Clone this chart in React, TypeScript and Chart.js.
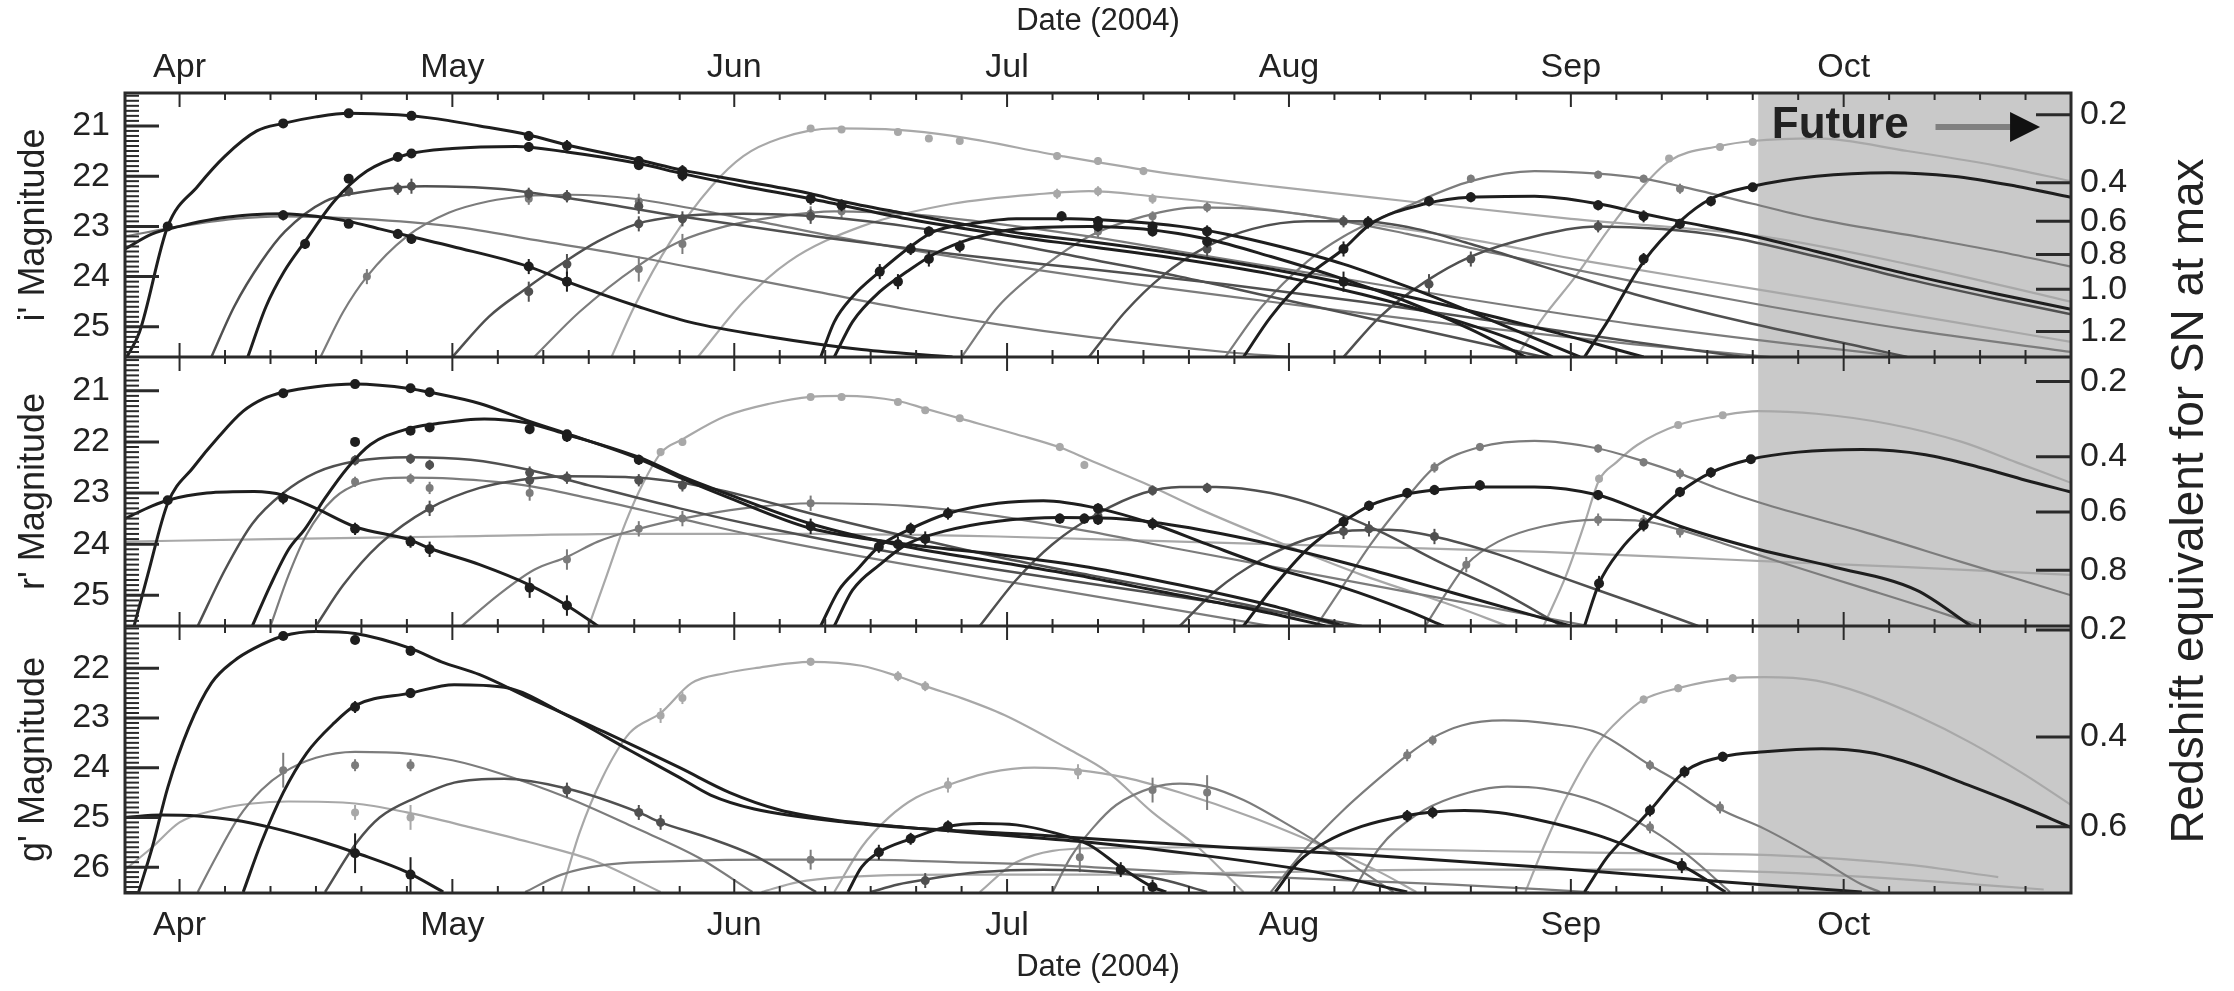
import React, { useEffect, useRef } from 'react';
import { Chart, registerables } from 'chart.js';

Chart.register(...registerables);

// ---------- axes (x = days since 2004-04-01) ----------
const monthDays = [0, 30, 61, 91, 122, 153, 183];
const monthLabels = ['Apr', 'May', 'Jun', 'Jul', 'Aug', 'Sep', 'Oct'];
const X_MIN = -6;
const X_MAX = 208;
const FUTURE_START = 173.6;

const iRange = [20.345, 25.6];
const rRange = [20.34, 25.6];
const gRange = [21.15, 26.52];
const iTicks = [21, 22, 23, 24, 25];
const rTicks = [21, 22, 23, 24, 25];
const gTicks = [22, 23, 24, 25, 26];

const iRedshiftLabels = ['0.2', '0.4', '0.6', '0.8', '1.0', '1.2'];
const iRedshiftMags = [20.78, 22.13, 22.9, 23.56, 24.25, 25.09];
const rRedshiftLabels = ['0.2', '0.4', '0.6', '0.8'];
const rRedshiftMags = [20.82, 22.29, 23.37, 24.51];
const gRedshiftLabels = ['0.2', '0.4', '0.6'];
const gRedshiftMags = [21.23, 23.38, 25.19];

// ---------- i' light curves [day, mag] and observations [day, mag, err] ----------
const iA = [[-5.8,25.6],[-4.4,25.1],[-1.3,23.0],[2,22.2],[5,21.6],[8.5,21.1],[11.4,20.95],[15,20.82],[18.6,20.75],[24,20.78],[27.5,20.84],[33,21.0],[38.4,21.18],[42.6,21.38],[50.5,21.68],[55.3,21.88],[62,22.1],[69.4,22.35],[72.8,22.5],[79,22.72],[86,22.95],[93,23.15],[100,23.3],[110,23.55],[120,23.85],[130,24.2],[140,24.6],[150,25.05],[158,25.45],[161,25.6]];
const iAObs = [[11.4,20.95,0.06],[18.6,20.75,0.05],[25.5,20.8,0.06],[38.4,21.2,0.1],[42.6,21.4,0.12],[50.5,21.7,0.1],[55.3,21.9,0.12]];
const iB = [[7.5,25.6],[9.5,24.6],[11.5,23.9],[13.8,23.3],[17,22.5],[20.6,21.9],[25,21.57],[30,21.45],[37,21.41],[42.6,21.52],[50.5,21.75],[55.3,21.95],[62,22.2],[69.4,22.45],[80,22.85],[90,23.15],[100,23.4],[110,23.65],[120,23.95],[130,24.35],[140,24.85],[148,25.35],[151,25.6]];
const iBObs = [[13.8,23.35,0.1],[18.6,22.05,0.08],[24,21.62,0.07],[25.5,21.55,0.08],[38.4,21.42,0.1],[50.5,21.78,0.1],[55.3,21.98,0.12],[69.4,22.45,0.12],[72.8,22.58,0.12]];
const iC = [[-6,23.45],[-3,23.15],[0,23.0],[4,22.85],[8,22.77],[11.4,22.75],[15,22.8],[18.6,22.9],[22,23.05],[25.4,23.2],[30,23.4],[38.4,23.8],[42.6,24.1],[50.5,24.6],[56,24.9],[65,25.2],[75,25.45],[85,25.6]];
const iCObs = [[-1.3,23.0,0.08],[11.4,22.78,0.1],[18.6,22.95,0.08],[24,23.15,0.1],[25.5,23.25,0.1],[38.4,23.8,0.15],[42.6,24.1,0.2]];
const iC2 = [[-6,23.2],[0,23.0],[6,22.85],[11.4,22.8],[20,22.85],[30,23.0],[40,23.3],[50,23.6],[60,23.95],[70,24.3],[80,24.65],[90,24.95],[100,25.2],[115,25.5],[122,25.6]];
const iD = [[3.5,25.6],[6,24.6],[9,23.7],[11.6,23.1],[16,22.5],[20.6,22.3],[27,22.2],[35,22.25],[45,22.5],[55,22.8],[70,23.2],[85,23.55],[100,23.85],[115,24.15],[130,24.5],[145,24.9],[160,25.3],[172,25.6]];
const iDObs = [[18.6,22.3,0.1],[24,22.25,0.12],[25.5,22.2,0.15],[38.4,22.35,0.12],[42.6,22.4,0.12],[50.5,22.6,0.15]];
const iE = [[15.5,25.6],[18,24.7],[20.6,24.0],[25,23.2],[29.6,22.73],[34,22.5],[38,22.4],[43,22.37],[50,22.45],[55,22.6],[65,22.95],[75,23.3],[90,23.75],[105,24.15],[120,24.5],[140,24.95],[160,25.35],[175,25.6]];
const iEObs = [[20.6,24.0,0.15],[38.4,22.45,0.12],[42.6,22.4,0.12],[50.5,22.5,0.15]];
const iF = [[30,25.6],[34,24.8],[38,24.25],[42.4,23.7],[46,23.3],[50.3,22.95],[55,22.8],[62,22.75],[70,22.8],[80,23.0],[90,23.3],[100,23.65],[110,24.0],[120,24.4],[130,24.8],[140,25.2],[150,25.6]];
const iFObs = [[38.4,24.3,0.2],[42.6,23.75,0.2],[50.5,22.95,0.15],[55.3,22.85,0.15],[69.4,22.8,0.15]];
const iG = [[39,25.6],[44,24.7],[50.3,23.8],[55,23.3],[60,23.0],[66,22.8],[72,22.7],[80,22.75],[90,22.95],[100,23.2],[110,23.5],[125,23.95],[140,24.4],[160,24.95],[180,25.4],[190,25.6]];
const iGObs = [[50.5,23.85,0.25],[55.3,23.35,0.2],[69.4,22.75,0.15],[72.8,22.7,0.15]];
const iBig = [[47.5,25.6],[50,24.6],[54,23.3],[58.5,22.2],[62,21.6],[66,21.25],[72,21.05],[79,21.08],[85,21.2],[97,21.6],[107,21.9],[120,22.2],[135,22.5],[153,22.85],[174,23.2],[190,23.75],[208,24.5]];
const iBigObs = [[69.4,21.05,0.06],[72.8,21.07,0.06],[79,21.12,0.06],[82.4,21.25,0.06],[85.8,21.3,0.06],[96.5,21.6,0.08],[101,21.7,0.08],[106,21.9,0.08]];
const iH = [[70.5,25.6],[72,24.9],[74,24.4],[77,23.9],[80.4,23.4],[83,23.1],[87,22.95],[92,22.85],[98,22.85],[104,22.9],[110,23.0],[115,23.15],[121,23.4],[128,23.75],[135,24.2],[142,24.7],[150,25.3],[154,25.6]];
const iHObs = [[77,23.9,0.15],[80.4,23.45,0.12],[82.4,23.1,0.1],[97,22.8,0.1],[101,22.9,0.1],[107,23.0,0.1],[113,23.1,0.12]];
const iI = [[72,25.6],[74,24.9],[77,24.3],[80,23.9],[83,23.55],[87,23.25],[92,23.05],[100,23.0],[106,23.05],[113,23.25],[120,23.6],[128,24.05],[135,24.5],[142,25.05],[148,25.6]];
const iIObs = [[79,24.1,0.15],[82.4,23.65,0.15],[85.8,23.4,0.12],[101,23.0,0.1],[107,23.1,0.1],[113,23.3,0.12],[128,24.1,0.2]];
const iJ = [[57,25.6],[62,24.5],[67,23.7],[75,23.0],[85,22.55],[95,22.35],[100,22.3],[107,22.4],[115,22.55],[125,22.8],[140,23.2],[155,23.7],[175,24.3],[195,24.9],[208,25.3]];
const iJObs = [[96.5,22.35,0.1],[101,22.3,0.1],[107,22.45,0.1]];
const iK = [[100,25.6],[104,24.7],[108,24.0],[113,23.4],[118,23.05],[124,22.9],[130,22.9],[136,23.05],[142,23.35],[150,23.8],[160,24.35],[172,24.9],[185,25.4],[190,25.6]];
const iKObs = [[113,23.45,0.15],[128,22.9,0.12],[130.7,22.92,0.12]];
const iL = [[117,25.6],[120,24.8],[124,24.0],[128,23.45],[131,22.95],[137,22.55],[142,22.42],[149,22.4],[156,22.55],[161,22.75],[165,22.9],[172,23.15],[180,23.5],[190,23.95],[200,24.35],[208,24.65]];
const iLObs = [[128,23.45,0.15],[130.7,22.92,0.12],[137.4,22.5,0.1],[142,22.42,0.1],[156,22.58,0.1],[161,22.8,0.12]];
const iM = [[115,25.6],[119,24.6],[124,23.7],[128,23.2],[135,22.6],[142,22.1],[149,21.9],[156,21.95],[161,22.05],[165,22.2],[173,22.55],[180,22.85],[191,23.2],[200,23.5],[208,23.8]];
const iMObs = [[142,22.05,0.08],[156,21.97,0.08],[161,22.05,0.08],[165,22.25,0.1]];
const iN = [[147,25.6],[150,24.8],[153.5,24.0],[157,23.1],[160,22.4],[163.8,21.7],[169.4,21.4],[173,21.3],[180,21.25],[190,21.5],[200,21.8],[208,22.1]];
const iNObs = [[163.8,21.65,0.06],[169.4,21.42,0.06],[173,21.32,0.06]];
const iO = [[154.5,25.6],[157,24.9],[161,23.7],[165,22.9],[168.4,22.45],[173,22.2],[180,22.0],[188,21.93],[195,22.0],[202,22.2],[208,22.42]];
const iOObs = [[161,23.65,0.12],[165,22.95,0.1],[168.4,22.5,0.1],[173,22.22,0.08]];
const iP = [[128,25.6],[132,24.8],[137,24.1],[142,23.6],[149,23.2],[156,23.0],[163,23.05],[170,23.2],[180,23.6],[190,24.05],[200,24.45],[208,24.75]];
const iPObs = [[137.4,24.15,0.2],[142,23.65,0.15],[156,23.0,0.12]];
const iQ = [[86,25.6],[90,24.6],[95,23.8],[100,23.2],[106,22.8],[112,22.62],[118,22.65],[125,22.8],[135,23.15],[145,23.55],[160,24.1],[175,24.6],[190,25.05],[208,25.5]];
const iQObs = [[101,23.1,0.12],[107,22.8,0.1],[113,22.62,0.1]];

// ---------- r' light curves ----------
const rA = [[-5,25.6],[-3.5,24.6],[-1.3,23.2],[1.5,22.5],[4.3,21.9],[7,21.4],[9.3,21.15],[11.4,21.03],[15,20.92],[19.3,20.87],[25.4,20.96],[27.5,21.03],[33,21.25],[38.5,21.6],[42.6,21.84],[50.5,22.33],[55.3,22.72],[60.5,23.1],[69.4,23.69],[80,24.0],[90,24.2],[100,24.45],[110,24.8],[120,25.2],[128,25.6]];
const rAObs = [[11.4,21.05,0.06],[19.3,20.87,0.05],[25.4,20.95,0.06],[27.5,21.03,0.06],[42.6,21.85,0.08],[50.5,22.35,0.1]];
const rB = [[8,25.6],[10,24.8],[12,24.1],[13.8,23.7],[16,23.1],[18.5,22.5],[21,22.05],[25,21.75],[28,21.65],[33.5,21.55],[38,21.62],[42.5,21.85],[50.5,22.3],[55.3,22.68],[60,23.0],[69.4,23.6],[80,24.05],[90,24.35],[100,24.65],[110,25.0],[120,25.35],[126,25.6]];
const rBObs = [[19.3,22.0,0.08],[25.4,21.78,0.08],[27.5,21.72,0.08],[38.5,21.75,0.1],[42.6,21.9,0.1],[69.4,23.65,0.15]];
const rC = [[-6,23.5],[-3,23.25],[-1.3,23.14],[3,23.0],[8.2,22.97],[11.4,23.04],[15,23.3],[19.3,23.66],[25.4,23.92],[27.5,24.08],[33,24.4],[38.5,24.8],[42.6,25.2],[46,25.6]];
const rCObs = [[-1.3,23.14,0.08],[11.4,23.1,0.12],[19.3,23.7,0.12],[25.4,23.95,0.12],[27.5,24.1,0.15],[38.5,24.85,0.2],[42.6,25.2,0.2]];
const rC2 = [[-6,23.95],[10,23.9],[30,23.85],[50,23.8],[70,23.8],[90,23.85],[110,23.95],[130,24.05],[150,24.15],[170,24.3],[190,24.45],[208,24.6]];
const rD = [[2,25.6],[5,24.5],[8,23.6],[11.4,23.0],[15,22.6],[19.3,22.38],[25.4,22.3],[32,22.35],[38.5,22.55],[45,22.85],[55,23.3],[65,23.7],[75,24.05],[90,24.5],[105,24.9],[120,25.3],[130,25.6]];
const rDObs = [[19.3,22.36,0.1],[25.4,22.33,0.1],[27.5,22.45,0.1],[38.5,22.6,0.12]];
const rE = [[10,25.6],[12,24.6],[14,23.8],[17,23.1],[20,22.8],[25,22.7],[30,22.72],[38,22.85],[45,23.1],[55,23.5],[65,23.9],[80,24.4],[95,24.85],[110,25.3],[120,25.6]];
const rEObs = [[19.3,22.78,0.1],[25.4,22.72,0.1],[27.5,22.9,0.12],[38.5,23.0,0.15]];
const rF = [[15,25.6],[18,24.8],[22,24.0],[27.5,23.3],[33,22.9],[38.5,22.72],[42.6,22.67],[50.5,22.7],[55.3,22.8],[62,23.05],[69.4,23.4],[80,23.85],[90,24.25],[100,24.6],[115,25.1],[128,25.6]];
const rFObs = [[27.5,23.3,0.15],[38.5,22.75,0.12],[42.6,22.7,0.12],[50.5,22.75,0.12],[55.3,22.85,0.12]];
const rG = [[31,25.6],[35,25.0],[39,24.5],[42.6,24.25],[46,23.95],[50.5,23.7],[55.3,23.5],[62,23.3],[70,23.2],[80,23.25],[90,23.45],[100,23.75],[110,24.1],[125,24.6],[140,25.1],[155,25.6]];
const rGObs = [[42.6,24.3,0.2],[50.5,23.7,0.15],[55.3,23.5,0.15],[69.4,23.2,0.15]];
const rH = [[45,25.6],[47,24.6],[49,23.6],[51,22.8],[53,22.2],[55.3,21.95],[60,21.5],[65,21.25],[69.4,21.12],[73,21.1],[79,21.2],[82,21.35],[86,21.55],[92,21.85],[97,22.12],[100,22.35],[106,22.8],[112,23.3],[120,23.9],[130,24.6],[140,25.2],[146,25.6]];
const rHObs = [[52.9,22.2,0.08],[55.3,22.0,0.08],[69.4,21.12,0.06],[72.8,21.12,0.06],[79,21.22,0.06],[82,21.38,0.06],[85.8,21.54,0.06],[96.8,22.1,0.08],[99.5,22.45,0.08]];
const rI = [[70.5,25.6],[72.5,24.9],[74.5,24.5],[76.9,24.05],[80.4,23.7],[84.5,23.4],[90,23.2],[95,23.15],[101,23.3],[107,23.6],[113,24.0],[120,24.45],[128,24.85],[135,25.3],[139,25.6]];
const rIObs = [[76.9,24.05,0.12],[80.4,23.7,0.12],[84.5,23.4,0.12],[101,23.3,0.1],[107,23.6,0.12]];
const rJ = [[72,25.6],[74,24.9],[77,24.4],[80,24.0],[84,23.75],[90,23.55],[97,23.48],[103,23.5],[110,23.65],[120,24.0],[130,24.45],[140,24.95],[150,25.45],[153,25.6]];
const rJObs = [[79,24.0,0.15],[82,23.9,0.15],[96.8,23.5,0.1],[99.5,23.5,0.1],[101,23.52,0.1]];
const rK = [[88,25.6],[92,24.7],[96,24.0],[101,23.4],[106,23.0],[110,22.88],[114,22.88],[120,23.0],[126,23.3],[132,23.75],[138,24.3],[145,24.9],[152,25.6]];
const rKObs = [[101,23.45,0.12],[107,22.95,0.1],[113,22.9,0.1]];
const rM = [[117,25.6],[120,24.9],[124,24.1],[128,23.56],[130.8,23.25],[135,23.02],[138,22.94],[143,22.88],[149,22.88],[156,23.04],[161,23.37],[165,23.65],[173.6,24.1],[182,24.45],[191,24.9],[197,25.6]];
const rMObs = [[128,23.56,0.12],[130.8,23.25,0.1],[135,23.0,0.1],[138,22.94,0.1],[143,22.85,0.1],[156,23.04,0.1]];
const rN = [[125,25.6],[128,24.8],[131,24.0],[134.5,23.2],[138,22.5],[143,22.1],[149,21.98],[156,22.13],[161,22.38],[165,22.62],[169,22.9],[174,23.2],[185,23.75],[196,24.35],[208,25.0]];
const rNObs = [[138,22.5,0.1],[143,22.1,0.08],[156,22.13,0.08],[161,22.4,0.08],[165,22.62,0.1]];
const rO = [[154.5,25.6],[156.1,24.77],[158.5,24.1],[161,23.63],[165,22.98],[168.4,22.6],[172.8,22.34],[178,22.2],[185,22.15],[192,22.25],[198,22.5],[203,22.75],[208,22.98]];
const rOObs = [[156.1,24.77,0.15],[161,23.63,0.12],[165,22.98,0.1],[168.4,22.6,0.1],[172.8,22.34,0.08]];
const rP = [[150,25.6],[152.5,24.6],[154.5,23.6],[156.1,22.75],[158,22.4],[160.3,22.06],[164.8,21.67],[169.7,21.48],[173.6,21.4],[180,21.45],[188,21.65],[196,22.0],[202,22.4],[208,22.8]];
const rPObs = [[156.1,22.72,0.08],[164.8,21.67,0.06],[169.7,21.48,0.06]];
const rQ = [[137,25.6],[139.5,24.9],[141.5,24.4],[145,23.95],[150,23.65],[156,23.52],[161,23.55],[165,23.72],[170,24.0],[176,24.35],[185,24.85],[193,25.3],[198,25.6]];
const rQObs = [[141.5,24.4,0.15],[156,23.52,0.12],[161,23.55,0.12],[165,23.75,0.12]];
const rR = [[110,25.6],[114,24.9],[119,24.3],[124,23.9],[128,23.75],[133,23.72],[138,23.85],[145,24.2],[152,24.65],[160,25.15],[167,25.6]];
const rRObs = [[128,23.75,0.15],[130.8,23.7,0.15],[138,23.85,0.15]];

// ---------- g' light curves ----------
const gA = [[-4.5,26.5],[-3,25.6],[-1.3,24.4],[1,23.2],[3.5,22.3],[6,21.85],[8.2,21.6],[11.4,21.35],[15,21.26],[19.3,21.3],[25.4,21.6],[28.8,21.87],[33,22.13],[38.5,22.6],[46.7,23.28],[55,24.0],[60.5,24.5],[66,24.85],[72,25.05],[80,25.2],[90,25.35],[100,25.5],[112,25.75],[125,26.1],[135,26.5]];
const gAObs = [[11.4,21.35,0.08],[19.3,21.43,0.08],[25.4,21.65,0.1]];
const gB = [[7,26.5],[9,25.5],[11.4,24.5],[14,23.7],[17,23.1],[19.3,22.75],[25.4,22.5],[30.2,22.33],[35.7,22.38],[42.6,22.95],[49.5,23.65],[55,24.2],[58.4,24.55],[63.2,24.83],[73.5,25.1],[83.8,25.25],[94,25.35],[102,25.45],[115,25.6],[130,25.75],[150,26.0],[170,26.3],[185,26.5]];
const gBObs = [[19.3,22.78,0.12],[25.4,22.5,0.1]];
const gC = [[2,26.5],[4,25.8],[6.5,25.0],[9,24.45],[11.4,24.1],[15,23.8],[19.3,23.68],[25.4,23.72],[30,23.85],[35,24.1],[42.6,24.6],[50,25.2],[57,25.8],[63,26.5]];
const gCObs = [[11.4,24.05,0.35],[19.3,23.95,0.12],[25.4,23.95,0.12]];
const gD = [[-6,26.05],[-3,25.6],[0,25.1],[4,24.85],[8,24.72],[12,24.68],[19.3,24.72],[25,24.9],[32,25.2],[38.5,25.5],[46,25.9],[52.9,26.5]];
const gDObs = [[19.3,24.9,0.15],[25.4,25.0,0.25]];
const gE = [[-6,25.0],[-2,24.95],[2,24.97],[6,25.05],[10,25.2],[15,25.45],[20,25.75],[25,26.1],[29,26.5]];
const gEObs = [[19.3,25.72,0.4],[25.4,26.15,0.35]];
const gF = [[16,26.5],[19.5,25.5],[22,25.0],[26,24.6],[30.2,24.3],[35.7,24.22],[42.6,24.42],[50.5,24.9],[52.9,25.1],[58,25.4],[63.2,25.77],[70,26.5]];
const gFObs = [[42.6,24.45,0.15],[50.5,24.9,0.15],[52.9,25.1,0.15]];
const gG = [[42,26.5],[44,25.3],[46.5,24.2],[49.5,23.3],[52.9,22.9],[56.3,22.3],[60,22.1],[63.2,22.0],[69.4,21.87],[75,21.95],[79,22.16],[82,22.36],[86,22.6],[90.7,22.94],[97.5,23.6],[102,24.08],[107,24.9],[112,25.6],[117,26.5]];
const gGObs = [[52.9,22.95,0.15],[55.3,22.6,0.12],[69.4,21.87,0.08],[79,22.16,0.1],[82,22.36,0.1]];
const gH = [[38,26.5],[42,26.15],[47,25.95],[55,25.88],[65,25.85],[75,25.85],[85,25.9],[95,25.95],[105,26.05],[120,26.2],[140,26.35],[155,26.5]];
const gHObs = [[69.4,25.85,0.2]];
const gH2 = [[64,26.5],[68,26.3],[73,26.2],[85,26.15],[100,26.15],[120,26.1],[140,26.05],[160,26.05],[175,26.1],[190,26.25],[205,26.45]];
const gI = [[73.5,26.5],[75,26.0],[76.9,25.7],[80.4,25.43],[84.5,25.18],[88,25.12],[92,25.15],[96,25.3],[100,25.55],[103.5,26.0],[107,26.4],[108.5,26.5]];
const gIObs = [[76.9,25.7,0.15],[80.4,25.43,0.12],[84.5,25.18,0.12],[103.5,26.05,0.15],[107,26.4,0.15]];
const gJ = [[76,26.5],[79,26.35],[82,26.25],[88,26.1],[95,26.05],[102,26.1],[108,26.25],[113,26.5]];
const gJObs = [[82,26.27,0.15]];
const gK = [[96,26.5],[98,25.8],[100.5,25.2],[103,24.75],[107,24.4],[110,24.32],[113,24.38],[117,24.65],[121,25.05],[126,25.6],[131,26.2],[133.5,26.5]];
const gKObs = [[99,25.8,0.3],[107,24.45,0.25],[113,24.5,0.35]];
const gL = [[120,26.5],[124,25.6],[128,24.85],[132,24.2],[135,23.75],[137.8,23.4],[141,23.15],[145.6,23.05],[151,23.12],[156,23.3],[161.7,23.95],[165,24.3],[169.4,24.83],[174.3,25.23],[180,25.8],[185,26.35],[187,26.5]];
const gLObs = [[135,23.75,0.12],[137.8,23.45,0.1],[161.7,23.95,0.1],[169.4,24.8,0.12]];
const gM = [[120.5,26.5],[123,25.9],[126,25.5],[130,25.18],[135,24.96],[137.8,24.89],[141.3,24.86],[145,24.9],[149,25.03],[156,25.36],[161,25.7],[165.2,25.97],[170,26.5]];
const gMObs = [[135,24.97,0.12],[137.8,24.9,0.12],[165.2,25.97,0.15]];
const gN = [[129,26.5],[132,25.6],[136,24.95],[140,24.6],[146,24.38],[150,24.42],[156,24.7],[161.7,25.23],[166,25.78],[170.5,26.5]];
const gNObs = [[161.7,25.2,0.12]];
const gO = [[154.5,26.5],[157,25.8],[159.5,25.3],[161.7,24.86],[165.5,24.08],[169.7,23.78],[174.3,23.68],[180.6,23.62],[186,23.7],[191,23.95],[196,24.3],[201.6,24.7],[208,25.2]];
const gOObs = [[161.7,24.86,0.12],[165.5,24.08,0.12],[169.7,23.78,0.1]];
const gP = [[148,26.5],[150,25.6],[152.5,24.6],[156,23.5],[158.5,23.0],[161,22.63],[164.8,22.4],[170.8,22.2],[174.3,22.18],[180,22.25],[185,22.5],[191,22.95],[197,23.5],[203,24.15],[208,24.75]];
const gPObs = [[161,22.63,0.08],[164.8,22.4,0.08],[170.8,22.2,0.08]];
const gR = [[72,26.5],[75,25.6],[78,25.0],[81,24.6],[84.5,24.35],[89,24.1],[94,24.0],[98.8,24.05],[104,24.2],[110,24.5],[118,25.0],[126,25.6],[132,26.1],[136,26.5]];
const gRObs = [[84.5,24.35,0.15],[98.8,24.08,0.15]];
const gS = [[88,26.5],[92,25.9],[100,25.62],[115,25.6],[130,25.63],[145,25.68],[160,25.72],[175,25.76],[190,25.95],[200,26.2]];

type Curve = { pts: number[][]; obs: number[][]; shade: string };

const iCurves: Curve[] = [
  { pts: iA, obs: iAObs, shade: 'k' }, { pts: iB, obs: iBObs, shade: 'k' }, { pts: iC, obs: iCObs, shade: 'k' },
  { pts: iC2, obs: [], shade: 'm' }, { pts: iD, obs: iDObs, shade: 'd' }, { pts: iE, obs: iEObs, shade: 'm' },
  { pts: iF, obs: iFObs, shade: 'd' }, { pts: iG, obs: iGObs, shade: 'm' }, { pts: iBig, obs: iBigObs, shade: 'l' },
  { pts: iH, obs: iHObs, shade: 'k' }, { pts: iI, obs: iIObs, shade: 'k' }, { pts: iJ, obs: iJObs, shade: 'l' },
  { pts: iK, obs: iKObs, shade: 'd' }, { pts: iL, obs: iLObs, shade: 'k' }, { pts: iM, obs: iMObs, shade: 'm' },
  { pts: iN, obs: iNObs, shade: 'l' }, { pts: iO, obs: iOObs, shade: 'k' }, { pts: iP, obs: iPObs, shade: 'd' },
  { pts: iQ, obs: iQObs, shade: 'm' },
];
const rCurves: Curve[] = [
  { pts: rA, obs: rAObs, shade: 'k' }, { pts: rB, obs: rBObs, shade: 'k' }, { pts: rC, obs: rCObs, shade: 'k' },
  { pts: rC2, obs: [], shade: 'l' }, { pts: rD, obs: rDObs, shade: 'd' }, { pts: rE, obs: rEObs, shade: 'm' },
  { pts: rF, obs: rFObs, shade: 'd' }, { pts: rG, obs: rGObs, shade: 'm' }, { pts: rH, obs: rHObs, shade: 'l' },
  { pts: rI, obs: rIObs, shade: 'k' }, { pts: rJ, obs: rJObs, shade: 'k' }, { pts: rK, obs: rKObs, shade: 'd' },
  { pts: rM, obs: rMObs, shade: 'k' }, { pts: rN, obs: rNObs, shade: 'm' }, { pts: rO, obs: rOObs, shade: 'k' },
  { pts: rP, obs: rPObs, shade: 'l' }, { pts: rQ, obs: rQObs, shade: 'm' }, { pts: rR, obs: rRObs, shade: 'd' },
];
const gCurves: Curve[] = [
  { pts: gA, obs: gAObs, shade: 'k' }, { pts: gB, obs: gBObs, shade: 'k' }, { pts: gC, obs: gCObs, shade: 'm' },
  { pts: gD, obs: gDObs, shade: 'l' }, { pts: gE, obs: gEObs, shade: 'k' }, { pts: gF, obs: gFObs, shade: 'd' },
  { pts: gG, obs: gGObs, shade: 'l' }, { pts: gH, obs: gHObs, shade: 'm' }, { pts: gH2, obs: [], shade: 'l' },
  { pts: gI, obs: gIObs, shade: 'k' }, { pts: gJ, obs: gJObs, shade: 'd' }, { pts: gK, obs: gKObs, shade: 'm' },
  { pts: gL, obs: gLObs, shade: 'm' }, { pts: gM, obs: gMObs, shade: 'k' }, { pts: gN, obs: gNObs, shade: 'm' },
  { pts: gO, obs: gOObs, shade: 'k' }, { pts: gP, obs: gPObs, shade: 'l' }, { pts: gR, obs: gRObs, shade: 'l' },
  { pts: gS, obs: [], shade: 'l' },
];

// ---------- styles ----------
const FONT = "'Liberation Sans', Arial, Helvetica, sans-serif";
const INK = '#222222';
const SHADES: Record<string, { color: string; width: number; radius: number; order: number }> = {
  k: { color: '#1e1e1e', width: 3, radius: 5, order: 10 },
  d: { color: '#505050', width: 2.5, radius: 4.5, order: 20 },
  m: { color: '#7c7c7c', width: 2.2, radius: 4, order: 30 },
  l: { color: '#a8a8a8', width: 2.2, radius: 4, order: 40 },
};

function buildDatasets(curves: Curve[], yAxisID: string) {
  const out: any[] = [];
  curves.forEach((c) => {
    const s = SHADES[c.shade];
    out.push({
      type: 'line',
      data: c.pts.map(([x, y]) => ({ x, y })),
      xAxisID: 'x',
      yAxisID,
      borderColor: s.color,
      borderWidth: s.width,
      pointRadius: 0,
      pointHoverRadius: 0,
      cubicInterpolationMode: 'monotone',
      fill: false,
      order: s.order,
    });
    if (c.obs.length) {
      out.push({
        type: 'line',
        data: c.obs.map(([x, y]) => ({ x, y })),
        errs: c.obs.map((o) => o[2]),
        errColor: s.color,
        xAxisID: 'x',
        yAxisID,
        showLine: false,
        pointRadius: s.radius,
        pointHoverRadius: s.radius,
        pointBackgroundColor: s.color,
        pointBorderColor: s.color,
        pointBorderWidth: 0,
        order: s.order - 5,
      });
    }
  });
  return out;
}

const panelClip = {
  id: 'panelClip',
  beforeDatasetDraw(chart: any, args: any) {
    const ys = args.meta.yScale;
    const a = chart.chartArea;
    const ctx = chart.ctx;
    ctx.save();
    ctx.beginPath();
    ctx.rect(a.left, ys.top, a.right - a.left, ys.bottom - ys.top);
    ctx.clip();
  },
  afterDatasetDraw(chart: any, args: any) {
    const ctx = chart.ctx;
    const ds = chart.data.datasets[args.index];
    if (ds.errs) {
      const xs = args.meta.xScale;
      const ys = args.meta.yScale;
      ctx.strokeStyle = ds.errColor;
      ctx.lineWidth = 2;
      ds.data.forEach((p: any, i: number) => {
        const e = ds.errs[i];
        const px = xs.getPixelForValue(p.x);
        ctx.beginPath();
        ctx.moveTo(px, ys.getPixelForValue(p.y - e));
        ctx.lineTo(px, ys.getPixelForValue(p.y + e));
        ctx.stroke();
      });
    }
    ctx.restore();
  },
};

const frame = {
  id: 'frame',
  beforeDatasetsDraw(chart: any) {
    const { ctx, chartArea: a, scales } = chart;
    const fx = scales.x.getPixelForValue(FUTURE_START);
    ctx.save();
    ctx.fillStyle = '#c9c9c9';
    ctx.fillRect(fx, a.top, a.right - fx, a.bottom - a.top);
    ctx.restore();
  },
  afterDatasetsDraw(chart: any) {
    const { ctx, chartArea: a, scales } = chart;
    const xs = scales.x;
    ctx.save();
    ctx.strokeStyle = '#2a2a2a';
    ctx.lineCap = 'butt';
    const panels = [scales.yI, scales.yR, scales.yG];
    const rights = [scales.yIr, scales.yRr, scales.yGr];
    const minor: number[] = [];
    const starts = monthDays.concat([214]);
    for (let m = 0; m < monthDays.length; m++) {
      for (let k = 1; k < 6; k++) {
        const d = monthDays[m] + 5 * k;
        if (d < starts[m + 1] - 2 && d < X_MAX) minor.push(d);
      }
    }
    panels.forEach((ps: any) => {
      ctx.lineWidth = 2;
      const edges = [ps.top, ps.bottom];
      edges.forEach((ey: number, j: number) => {
        const dir = j === 0 ? 1 : -1;
        monthDays.forEach((d) => {
          const px = xs.getPixelForValue(d);
          ctx.beginPath(); ctx.moveTo(px, ey); ctx.lineTo(px, ey + dir * 14); ctx.stroke();
        });
        minor.forEach((d) => {
          const px = xs.getPixelForValue(d);
          ctx.beginPath(); ctx.moveTo(px, ey); ctx.lineTo(px, ey + dir * 7); ctx.stroke();
        });
      });
      const lo = Math.ceil(Math.min(ps.min, ps.max) * 10);
      const hi = Math.floor(Math.max(ps.min, ps.max) * 10);
      for (let v = lo; v <= hi; v++) {
        const py = ps.getPixelForValue(v / 10);
        const len = v % 10 === 0 ? 34 : 14;
        ctx.lineWidth = v % 10 === 0 ? 3 : 2;
        ctx.beginPath(); ctx.moveTo(a.left, py); ctx.lineTo(a.left + len, py); ctx.stroke();
      }
    });
    ctx.lineWidth = 3;
    rights.forEach((rs: any) => {
      rs.ticks.forEach((t: any) => {
        const py = rs.getPixelForValue(t.value);
        ctx.beginPath(); ctx.moveTo(a.right - 35, py); ctx.lineTo(a.right, py); ctx.stroke();
      });
    });
    ctx.lineWidth = 3;
    ctx.strokeRect(a.left, a.top, a.right - a.left, a.bottom - a.top);
    [scales.yI.bottom, scales.yR.bottom].forEach((y: number) => {
      ctx.beginPath(); ctx.moveTo(a.left, y); ctx.lineTo(a.right, y); ctx.stroke();
    });
    const yi = scales.yI;
    ctx.fillStyle = INK;
    ctx.font = `bold 44px ${FONT}`;
    ctx.textAlign = 'left';
    ctx.textBaseline = 'alphabetic';
    ctx.fillText('Future', xs.getPixelForValue(175.1), yi.getPixelForValue(21.25));
    const ay = yi.getPixelForValue(21.02);
    ctx.strokeStyle = '#808080';
    ctx.lineWidth = 6;
    ctx.beginPath(); ctx.moveTo(xs.getPixelForValue(193.1), ay); ctx.lineTo(xs.getPixelForValue(202), ay); ctx.stroke();
    ctx.fillStyle = '#111';
    ctx.beginPath();
    ctx.moveTo(xs.getPixelForValue(201.3), ay - 15);
    ctx.lineTo(xs.getPixelForValue(204.6), ay);
    ctx.lineTo(xs.getPixelForValue(201.3), ay + 15);
    ctx.closePath();
    ctx.fill();
    ctx.restore();
  },
  afterDraw(chart: any) {
    const { ctx, chartArea: a } = chart;
    ctx.save();
    ctx.translate(chart.width - 44, (a.top + a.bottom) / 2 + 8);
    ctx.rotate(-Math.PI / 2);
    ctx.fillStyle = INK;
    ctx.font = `46px ${FONT}`;
    ctx.textAlign = 'center';
    ctx.textBaseline = 'middle';
    ctx.fillText('Redshift equivalent for SN at max', 0, 0);
    ctx.restore();
  },
};

function leftAxis(range: number[], ticks: number[], title: string, weight: number) {
  return {
    type: 'linear',
    position: 'left',
    stack: 'left',
    stackWeight: weight,
    reverse: true,
    min: range[0],
    max: range[1],
    grid: { display: false, drawTicks: false },
    border: { display: false },
    afterBuildTicks: (s: any) => { s.ticks = ticks.map((v) => ({ value: v })); },
    afterFit: (s: any) => { s.width = 125; },
    ticks: { autoSkip: false, padding: 15, color: INK, font: { family: FONT, size: 34 }, callback: (v: any) => String(v) },
    title: { display: true, text: title, color: INK, font: { family: FONT, size: 36 }, padding: { top: 12, bottom: 0 } },
  };
}

function rightAxis(range: number[], mags: number[], labels: string[], weight: number) {
  return {
    type: 'linear',
    position: 'right',
    stack: 'right',
    stackWeight: weight,
    reverse: true,
    min: range[0],
    max: range[1],
    grid: { display: false, drawTicks: false },
    border: { display: false },
    afterBuildTicks: (s: any) => { s.ticks = mags.map((v) => ({ value: v })); },
    afterFit: (s: any) => { s.width = 163; },
    ticks: { autoSkip: false, padding: 9, color: INK, font: { family: FONT, size: 34 }, callback: (_v: any, i: number) => labels[i] },
  };
}

function xAxis(pos: string, height: number, labelPad: number, titlePad: any) {
  return {
    type: 'linear',
    position: pos,
    min: X_MIN,
    max: X_MAX,
    grid: { display: false, drawTicks: false },
    border: { display: false },
    afterBuildTicks: (s: any) => { s.ticks = monthDays.map((v) => ({ value: v })); },
    afterFit: (s: any) => { s.height = height; },
    ticks: { autoSkip: false, maxRotation: 0, padding: labelPad, color: INK, font: { family: FONT, size: 34 }, callback: (_v: any, i: number) => monthLabels[i] },
    title: { display: true, text: 'Date (2004)', color: INK, font: { family: FONT, size: 31 }, padding: titlePad },
  };
}

export default function App() {
  const ref = useRef<HTMLCanvasElement>(null);
  useEffect(() => {
    const datasets = [
      ...buildDatasets(iCurves, 'yI'),
      ...buildDatasets(rCurves, 'yR'),
      ...buildDatasets(gCurves, 'yG'),
    ];
    const chart = new Chart(ref.current as HTMLCanvasElement, {
      type: 'line',
      data: { datasets },
      options: {
        responsive: false,
        animation: false,
        events: [],
        devicePixelRatio: 1,
        layout: { padding: 0, autoPadding: false },
        plugins: { legend: { display: false }, tooltip: { enabled: false } },
        scales: {
          x: xAxis('bottom', 98, 12, { top: 0, bottom: 5 }),
          x2: xAxis('top', 93, 5, { top: 3, bottom: 0 }),
          // left stack is laid out in reverse order (last key ends up on top)
          yG: leftAxis(gRange, gTicks, "g' Magnitude", 267),
          yR: leftAxis(rRange, rTicks, "r' Magnitude", 269),
          yI: leftAxis(iRange, iTicks, "i' Magnitude", 264),
          yIr: rightAxis(iRange, iRedshiftMags, iRedshiftLabels, 264),
          yRr: rightAxis(rRange, rRedshiftMags, rRedshiftLabels, 269),
          yGr: rightAxis(gRange, gRedshiftMags, gRedshiftLabels, 267),
        },
      } as any,
      plugins: [panelClip, frame],
    });
    return () => chart.destroy();
  }, []);
  return (
    <div style={{ position: 'fixed', left: 0, top: 0, width: 2234, height: 991, background: '#fff' }}>
      <canvas ref={ref} width={2234} height={991} style={{ display: 'block' }} />
    </div>
  );
}
